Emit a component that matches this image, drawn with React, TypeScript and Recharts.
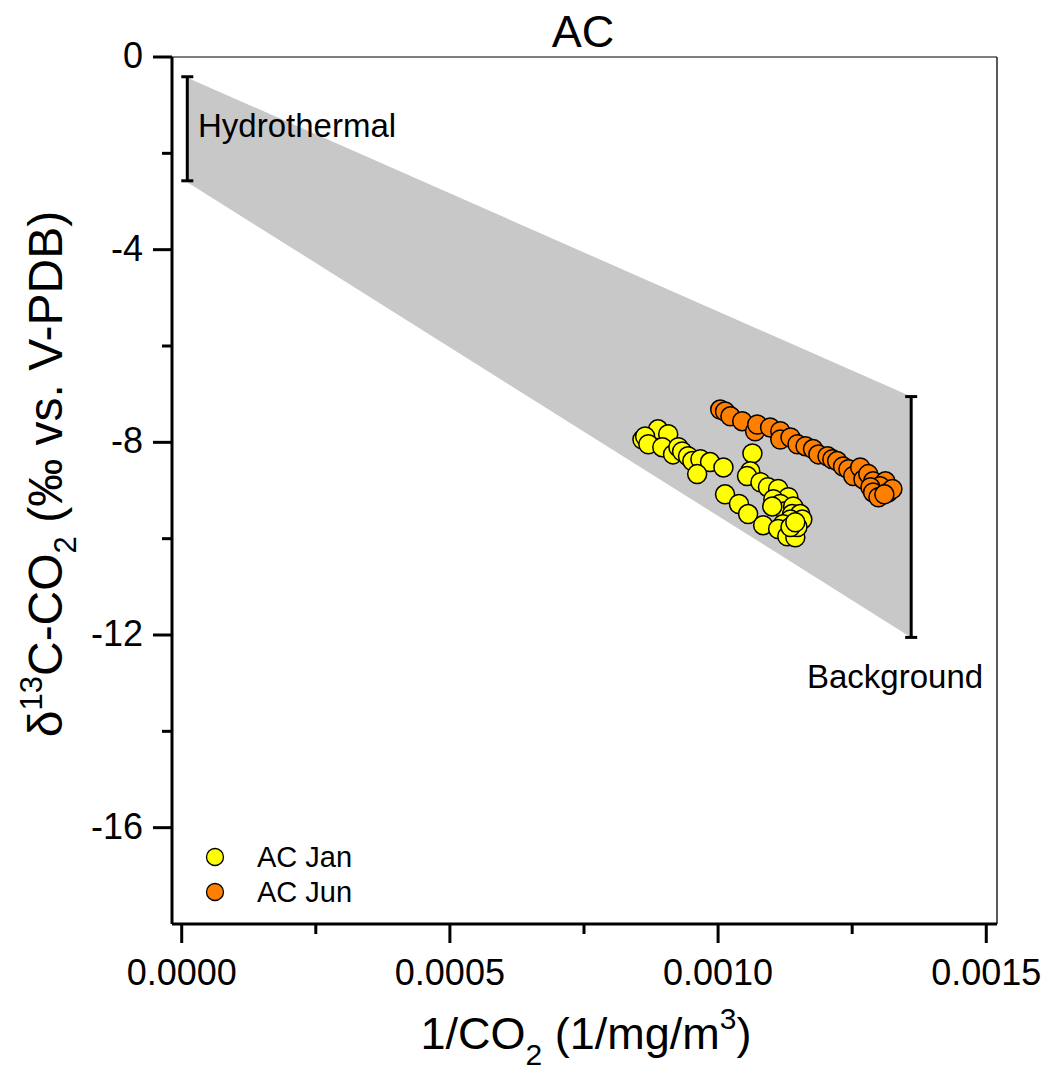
import React from 'react';
import {
  ComposedChart,
  Scatter,
  Area,
  XAxis,
  YAxis,
  ReferenceLine,
  Legend,
  Customized,
} from 'recharts';

const FONT = 'Arial, "Liberation Sans", sans-serif';

// ---------- data ----------
const acJan = [
  { x: 0.000859, y: -7.94 }, { x: 0.000873, y: -7.9 }, { x: 0.000888, y: -7.73 },
  { x: 0.000864, y: -7.88 }, { x: 0.00087, y: -8.04 }, { x: 0.000907, y: -7.83 },
  { x: 0.000896, y: -8.1 }, { x: 0.000916, y: -8.25 }, { x: 0.000926, y: -8.1 },
  { x: 0.000933, y: -8.19 }, { x: 0.000944, y: -8.29 }, { x: 0.000952, y: -8.39 },
  { x: 0.000967, y: -8.35 }, { x: 0.000985, y: -8.41 }, { x: 0.00101, y: -8.52 },
  { x: 0.000961, y: -8.66 }, { x: 0.001064, y: -8.23 }, { x: 0.00106, y: -8.6 },
  { x: 0.001054, y: -8.7 }, { x: 0.001079, y: -8.83 }, { x: 0.001093, y: -8.93 },
  { x: 0.001112, y: -8.97 }, { x: 0.001131, y: -9.14 }, { x: 0.001103, y: -9.18 },
  { x: 0.001116, y: -9.28 }, { x: 0.001125, y: -9.43 }, { x: 0.001101, y: -9.33 },
  { x: 0.00114, y: -9.33 }, { x: 0.001138, y: -9.49 }, { x: 0.001153, y: -9.49 },
  { x: 0.001157, y: -9.6 }, { x: 0.001135, y: -9.6 }, { x: 0.001013, y: -9.08 },
  { x: 0.001039, y: -9.28 }, { x: 0.001056, y: -9.49 }, { x: 0.001084, y: -9.72 },
  { x: 0.001121, y: -9.7 }, { x: 0.001112, y: -9.8 }, { x: 0.001129, y: -9.95 },
  { x: 0.001144, y: -9.97 }, { x: 0.001148, y: -9.76 }, { x: 0.001135, y: -9.76 },
  { x: 0.001144, y: -9.66 },
];

const acJun = [
  { x: 0.001004, y: -7.32 }, { x: 0.001013, y: -7.36 }, { x: 0.001023, y: -7.46 },
  { x: 0.001045, y: -7.56 }, { x: 0.001069, y: -7.77 }, { x: 0.001073, y: -7.63 },
  { x: 0.001097, y: -7.69 }, { x: 0.001116, y: -7.77 }, { x: 0.001116, y: -7.94 },
  { x: 0.001135, y: -7.9 }, { x: 0.001148, y: -8.04 }, { x: 0.001163, y: -8.08 },
  { x: 0.001177, y: -8.14 }, { x: 0.001187, y: -8.25 }, { x: 0.001204, y: -8.29 },
  { x: 0.001213, y: -8.35 }, { x: 0.001222, y: -8.39 }, { x: 0.001233, y: -8.5 },
  { x: 0.001243, y: -8.56 }, { x: 0.001252, y: -8.7 }, { x: 0.001265, y: -8.52 },
  { x: 0.001271, y: -8.77 }, { x: 0.00128, y: -8.66 }, { x: 0.001289, y: -8.81 },
  { x: 0.001312, y: -8.81 }, { x: 0.001302, y: -8.91 }, { x: 0.001284, y: -8.93 },
  { x: 0.001289, y: -9.04 }, { x: 0.001317, y: -9.04 }, { x: 0.001325, y: -8.97 },
  { x: 0.001299, y: -9.14 }, { x: 0.00131, y: -9.08 },
];

// mixing band (hydrothermal end-member -> background end-member)
const bandX = [0.0000104, 0.00136];
const bandTop = [-0.43, -7.05];
const bandBottom = [-2.6, -12.05];

// end-member ranges
const hydrothermal = { x: 0.0000104, top: -0.41, bottom: -2.57 };
const background = { x: 0.00136, top: -7.05, bottom: -12.05 };

const xTicks = [0, 0.00025, 0.0005, 0.00075, 0.001, 0.00125, 0.0015];
const yTicks = [0, -2, -4, -6, -8, -10, -12, -14, -16];

const X_DOMAIN: [number, number] = [-0.0000181, 0.00152];
const Y_DOMAIN: [number, number] = [-18, 0];

const seriesColors: Record<string, string> = { 'AC Jan': '#FFFF00', 'AC Jun': '#FF8000' };

const bandData = bandX.map((x, i) => ({ x, band: [bandBottom[i], bandTop[i]] }));

const CAP = 0.0000112;

// ---------- helpers ----------
const Dot = (props: any) => (
  <circle cx={props.cx} cy={props.cy} r={9.5} fill={props.fill} stroke="#000" strokeWidth={1.5} />
);

const XTick = (props: any) => {
  const { x, y, payload } = props;
  const v = payload.value as number;
  const major = Math.round(v / 0.00025) % 2 === 0;
  return (
    <g>
      <line x1={x} x2={x} y1={y} y2={y + (major ? 19 : 10)} stroke="#000" strokeWidth={3} />
      {major && (
        <text x={x} y={y + 61} textAnchor="middle" fontSize={36} fontFamily={FONT} fill="#000">
          {v.toFixed(4)}
        </text>
      )}
    </g>
  );
};

const YTick = (props: any) => {
  const { x, y, payload } = props;
  const v = payload.value as number;
  const major = Math.abs(v % 4) < 1e-9;
  return (
    <g>
      <line x1={x} x2={x - (major ? 19 : 10)} y1={y} y2={y} stroke="#000" strokeWidth={3} />
      {major && (
        <text x={x - 29} y={y + 11} textAnchor="end" fontSize={36} fontFamily={FONT} fill="#000">
          {String(v)}
        </text>
      )}
    </g>
  );
};

const AxisTexts = () => (
  <g fontFamily={FONT} fill="#000">
    <text x={583} y={47} textAnchor="middle" fontSize={45}>AC</text>
    <text x={586} y={1049} textAnchor="middle" fontSize={45}>
      1/CO<tspan fontSize={30} dy={16}>2</tspan>
      <tspan dy={-16}> (1/mg/m</tspan>
      <tspan fontSize={30} dy={-20}>3</tspan>
      <tspan dy={20}>)</tspan>
    </text>
    <text transform="rotate(-90)" x={-474} y={62} textAnchor="middle" fontSize={48}>
      δ<tspan fontSize={31} dy={-20}>13</tspan>
      <tspan dy={20}>C-CO</tspan>
      <tspan fontSize={31} dy={14}>2</tspan>
      <tspan dy={-14}> (‰ vs. V-PDB)</tspan>
    </text>
  </g>
);

const renderLegend = (props: any) => {
  const items = (props.payload || []).filter((p: any) => seriesColors[p.value]);
  return (
    <div style={{ fontFamily: FONT, fontSize: 29, color: '#000' }}>
      {items.map((p: any) => (
        <div key={p.value} style={{ display: 'flex', alignItems: 'center', height: 35, lineHeight: '35px' }}>
          <svg width={20} height={20} style={{ display: 'block' }}>
            <circle cx={10} cy={10} r={8.5} fill={seriesColors[p.value]} stroke="#000" strokeWidth={1.3} />
          </svg>
          <span style={{ marginLeft: 32, whiteSpace: 'nowrap' }}>{p.value}</span>
        </div>
      ))}
    </div>
  );
};

export default function App() {
  return (
    <div style={{ position: 'absolute', left: 0, top: 0, width: 1049, height: 1081, background: '#fff' }}>
      <ComposedChart
        width={1049}
        height={1081}
        data={bandData}
        margin={{ top: 57, right: 52, bottom: 97, left: 92 }}
      >
        <XAxis
          dataKey="x"
          type="number"
          domain={X_DOMAIN}
          allowDataOverflow
          ticks={xTicks}
          interval={0}
          height={60}
          tickSize={0}
          tickMargin={0}
          tickLine={false}
          axisLine={{ stroke: '#000', strokeWidth: 3 }}
          tick={<XTick />}
        />
        <YAxis
          dataKey="y"
          type="number"
          domain={Y_DOMAIN}
          allowDataOverflow
          ticks={yTicks}
          interval={0}
          width={80}
          tickSize={0}
          tickMargin={0}
          tickLine={false}
          axisLine={{ stroke: '#000', strokeWidth: 3 }}
          tick={<YTick />}
        />
        <Area
          type="linear"
          dataKey="band"
          stroke="none"
          fill="#c8c8c8"
          fillOpacity={1}
          dot={false}
          activeDot={false}
          legendType="none"
          isAnimationActive={false}
        />
        <ReferenceLine y={0} stroke="#555" strokeWidth={1.5} />
        <ReferenceLine x={X_DOMAIN[1]} stroke="#222" strokeWidth={1.5} />
        {[hydrothermal, background].map((b, i) => (
          <React.Fragment key={i}>
            <ReferenceLine segment={[{ x: b.x, y: b.top }, { x: b.x, y: b.bottom }]} stroke="#000" strokeWidth={3} />
            <ReferenceLine segment={[{ x: b.x - CAP, y: b.top }, { x: b.x + CAP, y: b.top }]} stroke="#000" strokeWidth={3} />
            <ReferenceLine segment={[{ x: b.x - CAP, y: b.bottom }, { x: b.x + CAP, y: b.bottom }]} stroke="#000" strokeWidth={3} />
          </React.Fragment>
        ))}
        <Scatter name="AC Jan" data={acJan} fill="#FFFF00" shape={<Dot />} isAnimationActive={false} />
        <Scatter name="AC Jun" data={acJun} fill="#FF8000" shape={<Dot />} isAnimationActive={false} />
        <Legend
          layout="vertical"
          align="center"
          verticalAlign="middle"
          content={renderLegend}
          wrapperStyle={{ left: 205, top: 839.5, width: 220, height: 70 }}
        />
        <Customized component={AxisTexts} />
      </ComposedChart>
      <svg
        width={1049}
        height={1081}
        style={{ position: 'absolute', left: 0, top: 0, pointerEvents: 'none' }}
      >
        <g fontFamily={FONT} fill="#000" fontSize={33}>
          <text x={198} y={137}>Hydrothermal</text>
          <text x={807} y={688}>Background</text>
        </g>
      </svg>
    </div>
  );
}
